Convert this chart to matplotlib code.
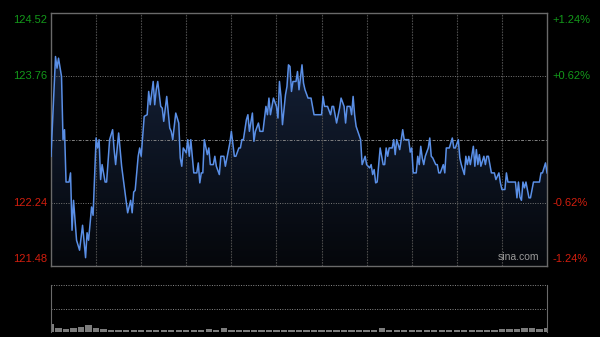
import matplotlib
matplotlib.use("Agg")
import matplotlib.pyplot as plt
import numpy as np
from matplotlib.colors import LinearSegmentedColormap
from matplotlib.patches import Polygon

# intraday price trace (minutes from open, price)
minutes = [0, 3, 4, 5, 7, 8, 9, 10, 12, 13, 14, 15, 17, 19, 21, 23, 24, 25, 27, 28,
           30, 31, 32, 33, 34, 36, 37, 39, 41, 42, 43, 45, 47, 49, 51, 53, 54, 55, 56, 58,
           59, 60, 62, 64, 65, 66, 68, 69, 70, 71, 73, 74, 75, 77, 79, 80, 81, 83, 85, 86,
           87, 88, 90, 91, 92, 93, 95, 97, 98, 99, 100, 101, 102, 104, 105, 106, 108, 109, 110, 112,
           113, 115, 116, 119, 120, 122, 123, 125, 126, 127, 128, 130, 131, 132, 134, 135, 136, 138, 139, 141,
           143, 144, 145, 146, 148, 150, 151, 152, 153, 154, 156, 157, 158, 159, 160, 161, 163, 164, 165, 167,
           168, 169, 171, 173, 175, 180, 181, 182, 184, 186, 187, 188, 190, 192, 193, 195, 196, 197, 199, 200,
           201, 202, 203, 206, 207, 209, 210, 212, 213, 214, 215, 216, 217, 218, 219, 221, 222, 223, 224, 225,
           227, 228, 229, 230, 232, 233, 234, 235, 238, 239, 240, 241, 243, 244, 245, 246, 247, 248, 249, 251,
           252, 253, 254, 256, 257, 258, 259, 261, 262, 263, 265, 267, 268, 269, 271, 272, 273, 275, 276, 277,
           278, 279, 281, 282, 283, 284, 285, 286, 288, 289, 290, 291, 293, 295, 296, 298, 299, 300, 302, 303,
           304, 306, 309, 310, 311, 312, 313, 314, 315, 316, 318, 319, 321, 323, 325, 326, 327, 329, 330]
prices = [122.80, 124.00, 123.86, 123.98, 123.76, 123.00, 123.12, 122.49, 122.49, 122.60,
          121.91, 122.27, 121.79, 121.67, 121.97, 121.58, 121.88, 121.79, 122.19, 122.09,
          123.02, 122.90, 123.00, 122.52, 122.70, 122.49, 122.49, 123.00, 123.12, 122.88,
          122.70, 123.08, 122.68, 122.40, 122.12, 122.27, 122.12, 122.37, 122.39, 122.80,
          122.90, 122.80, 123.28, 123.30, 123.58, 123.42, 123.70, 123.42, 123.60, 123.70,
          123.40, 123.38, 123.22, 123.52, 123.14, 123.10, 123.00, 123.32, 123.20, 122.78,
          122.68, 122.90, 122.84, 123.00, 122.80, 123.00, 122.60, 122.60, 122.72, 122.48,
          122.60, 122.60, 123.00, 122.82, 122.90, 122.70, 122.70, 122.80, 122.68, 122.58,
          122.80, 122.80, 122.68, 122.96, 123.10, 122.80, 122.80, 122.90, 122.90, 123.00,
          123.00, 123.24, 123.30, 123.10, 123.32, 122.98, 123.10, 123.20, 123.10, 123.10,
          123.40, 123.30, 123.50, 123.30, 123.50, 123.40, 123.26, 123.70, 123.52, 123.18,
          123.54, 123.64, 123.90, 123.88, 123.58, 123.70, 123.70, 123.82, 123.60, 123.90,
          123.68, 123.60, 123.50, 123.50, 123.30, 123.30, 123.52, 123.40, 123.40, 123.30,
          123.40, 123.40, 123.20, 123.38, 123.50, 123.40, 123.20, 123.40, 123.40, 123.30,
          123.52, 123.30, 123.16, 123.00, 122.70, 122.80, 122.70, 122.66, 122.70, 122.58,
          122.64, 122.48, 122.49, 122.70, 122.90, 122.70, 122.70, 122.90, 122.80, 122.90,
          122.90, 123.00, 122.82, 123.00, 122.88, 123.00, 123.12, 123.00, 123.00, 122.85,
          122.90, 122.60, 122.60, 122.80, 122.70, 122.92, 122.78, 122.70, 122.80, 122.90,
          123.02, 122.80, 122.78, 122.70, 122.70, 122.60, 122.60, 122.70, 122.60, 122.90,
          122.90, 123.02, 122.90, 122.90, 123.00, 122.78, 122.70, 122.58, 122.80, 122.70,
          122.80, 122.70, 122.92, 122.68, 122.88, 122.70, 122.82, 122.68, 122.80, 122.70,
          122.80, 122.80, 122.60, 122.60, 122.52, 122.60, 122.48, 122.40, 122.40, 122.60,
          122.49, 122.49, 122.49, 122.30, 122.49, 122.31, 122.27, 122.49, 122.42, 122.49,
          122.30, 122.30, 122.49, 122.49, 122.49, 122.60, 122.60, 122.72, 122.60]

# volume every 5 minutes (relative units)
vol_minutes = list(range(0, 331, 5))
volumes = [16, 8, 6, 8, 10, 14, 9, 6, 5, 4, 5, 4, 5, 4, 4, 5, 4, 4, 4, 5,
           4, 6, 5, 9, 5, 4, 4, 4, 4, 4, 4, 4, 4, 4, 4, 4, 4, 4, 4, 4,
           4, 4, 5, 4, 9, 5, 4, 4, 4, 4, 4, 4, 4, 4, 4, 4, 4, 4, 5, 5,
           6, 6, 7, 8, 9, 7, 8]

prev_close = 123.00
price_lo, price_hi = 121.48, 124.52
left_ticks = [124.52, 123.76, 122.24, 121.48]
right_labels = ["+1.24%", "+0.62%", "-0.62%", "-1.24%"]

GREEN = "#13991a"
RED = "#d21e0e"
GRID = "#4a4a4a"
EDGE = "#6a6a6a"

fig = plt.figure(figsize=(6, 3.37), dpi=100, facecolor="black")
ax = fig.add_axes([51 / 600, 1 - 266 / 337, 496 / 600, 252.7 / 337])
ax.set_facecolor("black")
ax.set_xlim(0, 330)
ax.set_ylim(price_lo, price_hi)

# gradient fill under the line
cmap = LinearSegmentedColormap.from_list("fill", ["#05070b", "#17253f"])
grad = np.linspace(0, 1, 256).reshape(-1, 1)
img = ax.imshow(grad, cmap=cmap, origin="lower", aspect="auto",
                extent=[0, 330, price_lo, price_hi], zorder=1)
poly = np.column_stack([[minutes[0]] + minutes + [minutes[-1]],
                        [price_lo] + prices + [price_lo]])
clip = Polygon(poly, closed=True, transform=ax.transData, facecolor="none", edgecolor="none")
ax.add_patch(clip)
img.set_clip_path(clip)

# grid
for m in range(30, 330, 30):
    ax.axvline(m, color=GRID, lw=0.8, ls=(0, (1.5, 1)), zorder=2)
for p in (123.76, 122.24):
    ax.axhline(p, color="#777777", lw=0.7, ls=(0, (1, 1.5)), zorder=2)
ax.axhline(prev_close, color="#808080", lw=0.7, ls=(0, (3, 1.5, 1, 1.5)), zorder=2)

ax.plot(minutes, prices, color="#5a8fe6", lw=1.1, zorder=3)

for s in ax.spines.values():
    s.set_color(EDGE)
    s.set_linewidth(1.0)
ax.set_xticks([])
ax.set_yticks([])

# axis labels
for i, (p, lab) in enumerate(zip(left_ticks, right_labels)):
    col = GREEN if p > prev_close else RED
    va = "top" if i == 0 else ("bottom" if i == len(left_ticks) - 1 else "center")
    off = -1.5 if i == 0 else (1.5 if i == len(left_ticks) - 1 else 0)
    ax.annotate(f"{p:.2f}", (0, p), xycoords=("axes fraction", "data"),
                xytext=(-3, off), textcoords="offset points", ha="right", va=va,
                color=col, fontsize=8, family="Liberation Sans")
    ax.annotate(lab, (1, p), xycoords=("axes fraction", "data"),
                xytext=(4, off), textcoords="offset points", ha="left", va=va,
                color=col, fontsize=8, family="Liberation Sans")

ax.text(0.985, 0.015, "sina.com", transform=ax.transAxes, ha="right", va="bottom",
        color="#9a9a9a", fontsize=7.5, family="Liberation Sans", zorder=4)

# volume panel
vx = fig.add_axes([51 / 600, 1 - 332 / 337, 496 / 600, 47 / 337])
vx.set_facecolor("black")
vx.set_xlim(0, 330)
vx.set_ylim(0, 100)
vx.bar(vol_minutes, volumes, width=4.2, color="#7c7c7c", zorder=2)
for y in (50, 100):
    vx.axhline(y, color="#8a8a8a", lw=0.7, ls=(0, (1, 1.5)), clip_on=False)
vx.spines["top"].set_visible(False)
vx.spines["bottom"].set_visible(False)
for side in ("left", "right"):
    vx.spines[side].set_color(EDGE)
vx.set_xticks([])
vx.set_yticks([])

fig.savefig("out.png", dpi=100, facecolor="black")
